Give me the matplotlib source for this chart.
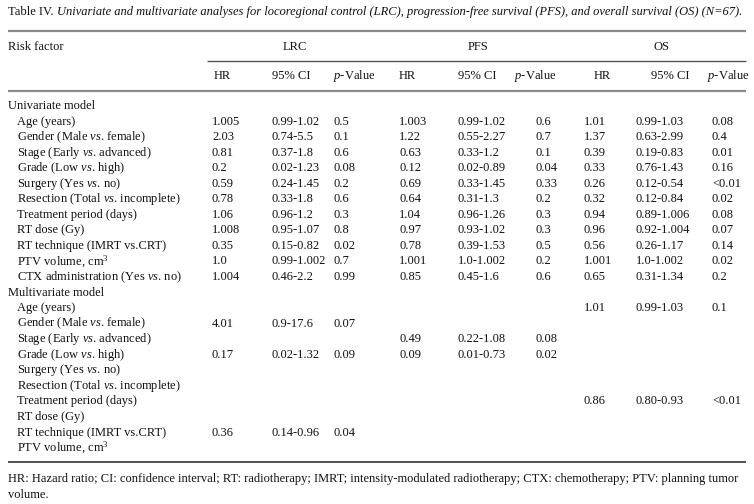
import matplotlib
matplotlib.use("Agg")
import matplotlib.pyplot as plt

plt.rcParams['font.family'] = ['Liberation Serif', 'DejaVu Serif']
plt.rcParams['mathtext.fontset'] = 'custom'
plt.rcParams['mathtext.rm'] = 'Liberation Serif'
plt.rcParams['mathtext.it'] = 'Liberation Serif:italic'

VS = r"$\mathit{vs}$."
title_plain = "Table IV. "
title_italic = ("Univariate and multivariate analyses for locoregional control (LRC), "
                "progression-free survival (PFS), and overall survival (OS) (N=67).")

groups = ["LRC", "PFS", "OS"]
subheads = ["HR", "95% CI", r"$\mathit{p}$-Value"]

factors_uni = ["Age (years)", f"Gender (Male {VS} female)", f"Stage (Early {VS} advanced)",
               f"Grade (Low {VS} high)", f"Surgery (Yes {VS} no)",
               f"Resection (Total {VS} incomplete)", "Treatment period (days)",
               "RT dose (Gy)", "RT technique (IMRT vs.CRT)", "PTV volume, cm$^3$",
               f"CTX administration (Yes {VS} no)"]
factors_multi = factors_uni[:10]

# Univariate model
lrc_hr = ["1.005", "2.03", "0.81", "0.2", "0.59", "0.78", "1.06", "1.008", "0.35", "1.0", "1.004"]
lrc_ci = ["0.99-1.02", "0.74-5.5", "0.37-1.8", "0.02-1.23", "0.24-1.45", "0.33-1.8",
          "0.96-1.2", "0.95-1.07", "0.15-0.82", "0.99-1.002", "0.46-2.2"]
lrc_p = ["0.5", "0.1", "0.6", "0.08", "0.2", "0.6", "0.3", "0.8", "0.02", "0.7", "0.99"]
pfs_hr = ["1.003", "1.22", "0.63", "0.12", "0.69", "0.64", "1.04", "0.97", "0.78", "1.001", "0.85"]
pfs_ci = ["0.99-1.02", "0.55-2.27", "0.33-1.2", "0.02-0.89", "0.33-1.45", "0.31-1.3",
          "0.96-1.26", "0.93-1.02", "0.39-1.53", "1.0-1.002", "0.45-1.6"]
pfs_p = ["0.6", "0.7", "0.1", "0.04", "0.33", "0.2", "0.3", "0.3", "0.5", "0.2", "0.6"]
os_hr = ["1.01", "1.37", "0.39", "0.33", "0.26", "0.32", "0.94", "0.96", "0.56", "1.001", "0.65"]
os_ci = ["0.99-1.03", "0.63-2.99", "0.19-0.83", "0.76-1.43", "0.12-0.54", "0.12-0.84",
         "0.89-1.006", "0.92-1.004", "0.26-1.17", "1.0-1.002", "0.31-1.34"]
os_p = ["0.08", "0.4", "0.01", "0.16", "<0.01", "0.02", "0.08", "0.07", "0.14", "0.02", "0.2"]

# Multivariate model
m_lrc_hr = ["", "4.01", "", "0.17", "", "", "", "", "0.36", ""]
m_lrc_ci = ["", "0.9-17.6", "", "0.02-1.32", "", "", "", "", "0.14-0.96", ""]
m_lrc_p = ["", "0.07", "", "0.09", "", "", "", "", "0.04", ""]
m_pfs_hr = ["", "", "0.49", "0.09", "", "", "", "", "", ""]
m_pfs_ci = ["", "", "0.22-1.08", "0.01-0.73", "", "", "", "", "", ""]
m_pfs_p = ["", "", "0.08", "0.02", "", "", "", "", "", ""]
m_os_hr = ["1.01", "", "", "", "", "", "0.86", "", "", ""]
m_os_ci = ["0.99-1.03", "", "", "", "", "", "0.80-0.93", "", "", ""]
m_os_p = ["0.1", "", "", "", "", "", "<0.01", "", "", ""]

footnote_1 = ("HR: Hazard ratio; CI: confidence interval; RT: radiotherapy; IMRT; intensity-modulated "
              "radiotherapy; CTX: chemotherapy; PTV: planning tumor")
footnote_2 = "volume."

W, H = 754, 504
fig = plt.figure(figsize=(W / 100, H / 100), dpi=100)
ax = fig.add_axes([0, 0, 1, 1])
ax.set_xlim(0, W)
ax.set_ylim(H, 0)
ax.axis("off")
fig.canvas.draw()
R = fig.canvas.get_renderer()

FS = 9.0
TXT = "#111111"


def put(x, y, s, **kw):
    kw.setdefault("fontsize", FS)
    kw.setdefault("va", "center")
    kw.setdefault("ha", "left")
    kw.setdefault("color", TXT)
    return ax.text(x, y, s, **kw)


def fit(t, right):
    """Shrink a left-aligned text so its right edge stays at `right` px."""
    for _ in range(30):
        bb = t.get_window_extent(renderer=R)
        if bb.x1 <= right:
            break
        t.set_fontsize(t.get_fontsize() - 0.05)
    return t


# Title (plain + italic)
t1 = put(8, 12, title_plain)
x_it = t1.get_window_extent(renderer=R).x1
t2 = put(x_it, 12, title_italic, style="italic")
for _ in range(40):
    bb = t2.get_window_extent(renderer=R)
    if bb.x1 <= 745:
        break
    t1.set_fontsize(t1.get_fontsize() - 0.05)
    t2.set_fontsize(t2.get_fontsize() - 0.05)
    t2.set_x(t1.get_window_extent(renderer=R).x1)

# Rules
ax.plot([8, 746], [31, 31], color="#8a8a8a", lw=1.6, solid_capstyle="butt")
ax.plot([207, 746], [61, 61], color="#555555", lw=1.0, solid_capstyle="butt")
ax.plot([8, 746], [91, 91], color="#8a8a8a", lw=1.6, solid_capstyle="butt")
ax.plot([8, 746], [462, 462], color="#222222", lw=1.1, solid_capstyle="butt")

# Header
put(8, 47, "Risk factor")
group_centers = [295, 478, 661]
for g, cx in zip(groups, group_centers):
    put(cx, 47, g, ha="center")
sub_x = [[214, 272, 333], [399, 458, 514], [594, 651, 707]]
for xs in sub_x:
    for s, x in zip(subheads, xs):
        put(x, 76, s)

# Body
col_x = [212, 272, 333, 399, 458, 536, 584, 636, 712]
y0 = 106
dy = 15.55

uni_cols = [lrc_hr, lrc_ci, lrc_p, pfs_hr, pfs_ci, pfs_p, os_hr, os_ci, os_p]
multi_cols = [m_lrc_hr, m_lrc_ci, m_lrc_p, m_pfs_hr, m_pfs_ci, m_pfs_p, m_os_hr, m_os_ci, m_os_p]

row = 0
put(8, y0 + row * dy, "Univariate model")
row += 1
for i, f in enumerate(factors_uni):
    y = y0 + row * dy
    put(17, y, f)
    for c, x in zip(uni_cols, col_x):
        if c[i]:
            put(x, y, c[i])
    row += 1
put(8, y0 + row * dy, "Multivariate model")
row += 1
for i, f in enumerate(factors_multi):
    y = y0 + row * dy
    put(17, y, f)
    for c, x in zip(multi_cols, col_x):
        if c[i]:
            put(x, y, c[i])
    row += 1

f1 = fit(put(8, 479, footnote_1), 745)
put(8, 495, footnote_2, fontsize=f1.get_fontsize())

fig.savefig("out.png", dpi=100)
